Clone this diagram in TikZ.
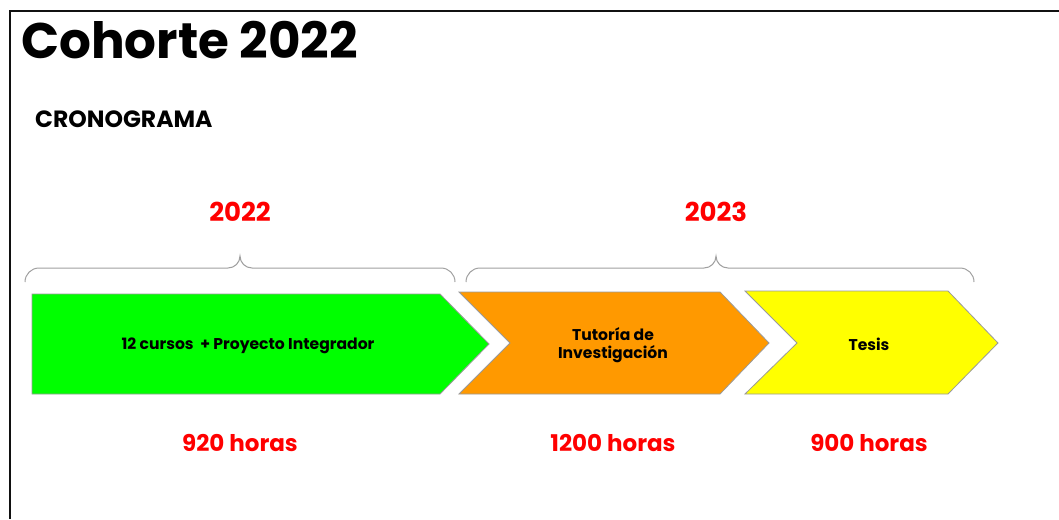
\documentclass[tikz,border=0pt]{standalone}
\usepackage{fontspec}
\setmainfont{Poppins}
\definecolor{frame}{HTML}{111111}
\definecolor{bracegray}{HTML}{A0A0A0}
\definecolor{edgegray}{HTML}{9A9A9A}
\definecolor{vgreen}{HTML}{00FF00}
\definecolor{vorange}{HTML}{FF9900}
\definecolor{vyellow}{HTML}{FFFF00}
\definecolor{vred}{HTML}{FF0000}
\begin{document}
\begin{tikzpicture}[x=1pt,y=-1pt,
  chevron/.style={draw=edgegray,line width=0.8pt,line join=miter},
  bracepath/.style={draw=bracegray,line width=1pt},
  yearlbl/.style={text=vred,font=\fontsize{26}{30}\selectfont\bfseries},
  hourlbl/.style={text=vred,font=\fontsize{23}{27}\selectfont\bfseries},
  stagelbl/.style={text=black,font=\fontsize{15.6}{19}\selectfont\bfseries,align=center}]
\useasboundingbox (0,0) rectangle (1059,519);
\fill[white] (0,0) rectangle (1059,519);
% frame
\draw[frame,line width=2pt] (1059,11) -- (10,11) -- (10,519);
% titles
\node[anchor=base west,inner sep=0pt,font=\fontsize{50}{56}\selectfont\bfseries] (title) at (21,59) {Cohorte 2022};
\node[anchor=base west,inner sep=0pt,font=\fontsize{23.5}{26}\selectfont\bfseries] (crono) at (35,127) {CRONOGRAMA};
% years
\node[yearlbl] (y2022) at (240,212) {2022};
\node[yearlbl] (y2023) at (716,212) {2023};
% braces
\draw[bracepath] (25,282) to[out=90,in=180] (39,268) -- (228,268) to[out=0,in=-90] (240,256) to[out=-90,in=180] (252,268) -- (441,268) to[out=0,in=90] (455,282);
\draw[bracepath] (466,282) to[out=90,in=180] (480,268) -- (704,268) to[out=0,in=-90] (716,256) to[out=-90,in=180] (728,268) -- (960,268) to[out=0,in=90] (974,282);
% chevrons
\draw[chevron,fill=vgreen] (32,294) -- (440,294) -- (489,344) -- (440,394) -- (32,394) -- cycle;
\draw[chevron,fill=vorange] (459,292) -- (720,292) -- (769,343) -- (720,394) -- (459,394) -- (510,343) -- cycle;
\draw[chevron,fill=vyellow] (745,291) -- (948,291) -- (998,343) -- (948,394) -- (745,394) -- (797,343) -- cycle;
% stage labels
\node[stagelbl] (s1) at (248,346) {12 cursos\ \ + Proyecto Integrador};
\node[stagelbl] (s2) at (613,345) {Tutoría de\\[-1pt]Investigación};
\node[stagelbl] (s3) at (869,344) {Tesis};
% hours
\node[hourlbl] (h1) at (240,443) {920 horas};
\node[hourlbl] (h2) at (613,443) {1200 horas};
\node[hourlbl] (h3) at (869,443) {900 horas};
\end{tikzpicture}
\end{document}
